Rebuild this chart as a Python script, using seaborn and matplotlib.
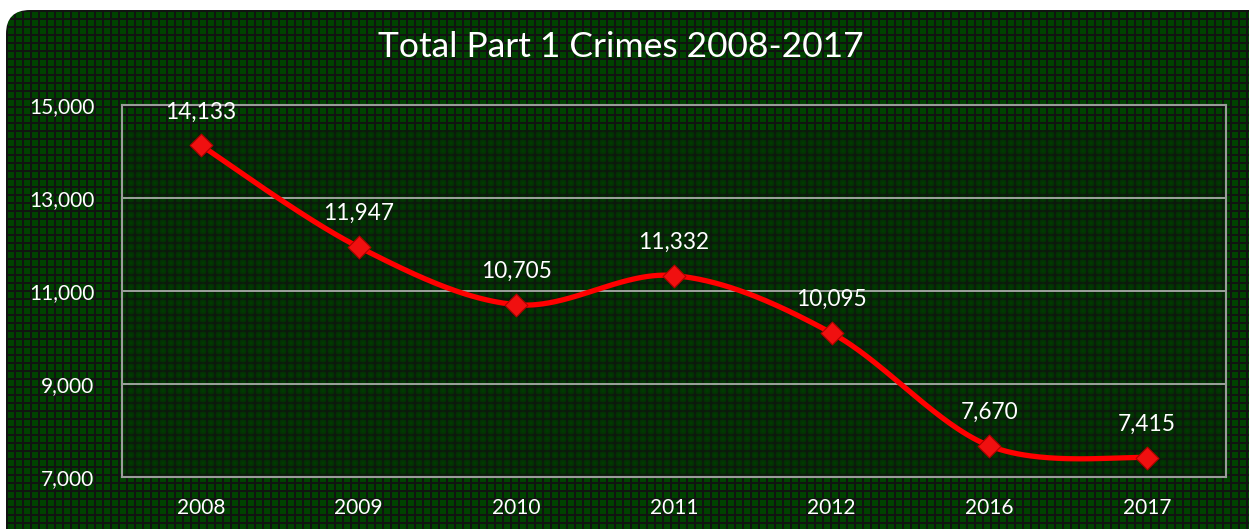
import numpy as np
import pandas as pd
import matplotlib
matplotlib.use("Agg")
import matplotlib.pyplot as plt
import seaborn as sns
from matplotlib.patches import FancyBboxPatch

# ---- data ----
years = ["2008", "2009", "2010", "2011", "2012", "2016", "2017"]
crimes = [14133, 11947, 10705, 11332, 10095, 7670, 7415]
y_ticks = [7000, 9000, 11000, 13000, 15000]
title = "Total Part 1 Crimes 2008-2017"

sns.set_style("dark")
plt.rcParams["font.family"] = ["Lato", "DejaVu Sans"]

W, H = 1249, 529
fig = plt.figure(figsize=(W / 100, H / 100), dpi=100)
fig.patch.set_facecolor("white")

# ---- textured rounded panel ----
bg = fig.add_axes([0, 0, 1, 1])
bg.set_xlim(0, W)
bg.set_ylim(H, 0)
bg.axis("off")

yy, xx = np.mgrid[0:H, 0:W]
grid_line = ((xx - 6) % 8 < 2) | ((yy - 10) % 8 < 2)
cell = np.array([0.0, 0.26, 0.0])
dark = np.array([0.07, 0.075, 0.07])
tex = np.where(grid_line[..., None], dark, cell)

# softened texture inside the plotting region
x0, x1, y0, y1 = 122, 1226, 130, 477
sub = tex[y0 - 4:y1 + 4, x0 - 4:x1 + 4].copy()
k = 2
acc = np.zeros_like(sub)
cnt = 0
for dy in range(-k, k + 1):
    for dx in range(-k, k + 1):
        acc += np.roll(np.roll(sub, dy, axis=0), dx, axis=1)
        cnt += 1
soft = acc / cnt
soft = 0.55 * soft + 0.45 * sub
tex[y0:y1, x0:x1] = soft[4:-4, 4:-4] * 0.9

img = bg.imshow(tex, extent=(0, W, H, 0), interpolation="nearest", zorder=0)
panel = FancyBboxPatch((6, 10), W + 30, H + 30,
                       boxstyle="round,pad=0,rounding_size=24",
                       transform=bg.transData, facecolor="none", edgecolor="none")
bg.add_patch(panel)
img.set_clip_path(panel)

# ---- chart ----
ax = fig.add_axes([122 / W, 1 - 477 / H, (1226 - 122) / W, (477 - 105) / H])
ax.patch.set_alpha(0)

xpos = np.arange(len(years), dtype=float)


def smooth_curve(x, y, n=60):
    pts = np.column_stack([x, y]).astype(float)
    ext = np.vstack([pts[0], pts, pts[-1]])
    segs = []
    t = np.linspace(0, 1, n)[:, None]
    for i in range(len(pts) - 1):
        p0, p1, p2, p3 = ext[i], ext[i + 1], ext[i + 2], ext[i + 3]
        c1 = p1 + (p2 - p0) / 6
        c2 = p2 - (p3 - p1) / 6
        seg = ((1 - t) ** 3) * p1 + 3 * ((1 - t) ** 2) * t * c1 \
            + 3 * (1 - t) * t ** 2 * c2 + t ** 3 * p2
        segs.append(seg if i == 0 else seg[1:])
    return np.vstack(segs)


curve = smooth_curve(xpos, crimes)
curve_df = pd.DataFrame({"x": curve[:, 0], "y": curve[:, 1]})
pts_df = pd.DataFrame({"x": xpos, "y": crimes})

sns.lineplot(data=curve_df, x="x", y="y", ax=ax, color="#ff0000",
             linewidth=3.8, sort=False, estimator=None, zorder=3)
sns.scatterplot(data=pts_df, x="x", y="y", ax=ax, marker="D", s=135,
                color="#f01010", edgecolor="#b00000", linewidth=0.8, zorder=4)

for xi, v in zip(xpos, crimes):
    ax.annotate(f"{v:,}", (xi, v), xytext=(0, 24), textcoords="offset points",
                ha="center", va="center", color="white", fontsize=16.3)

ax.set_xlim(-0.5, len(years) - 0.5)
ax.set_ylim(y_ticks[0], y_ticks[-1])
ax.set_yticks(y_ticks)
ax.set_yticklabels([f"{t:,}" for t in y_ticks])
ax.set_xticks(xpos)
ax.set_xticklabels(years)
ax.set_xlabel("")
ax.set_ylabel("")
ax.grid(False)
for t in y_ticks[1:-1]:
    ax.axhline(t, color="#a9aca9", linewidth=1.3, zorder=1)
for s in ax.spines.values():
    s.set_visible(True)
    s.set_color("#9a9c9a")
    s.set_linewidth(1.5)
ax.tick_params(axis="both", length=0, colors="white", labelsize=15)
ax.tick_params(axis="y", pad=20)
ax.tick_params(axis="x", pad=15)

fig.text(0.497, 1 - 47 / H, title, ha="center", va="center",
         color="white", fontsize=25.5)

fig.savefig("out.png", dpi=100, facecolor="white")
